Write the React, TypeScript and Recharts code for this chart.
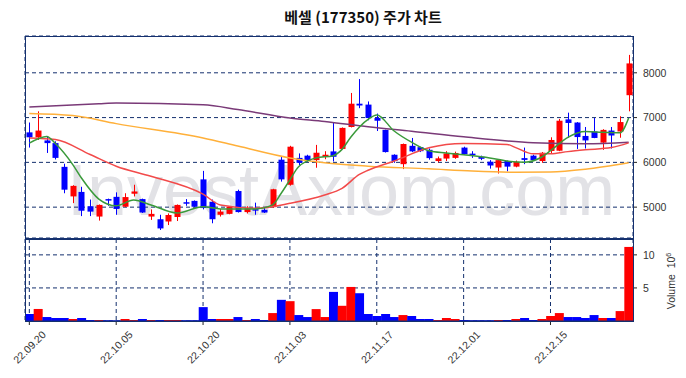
import { ComposedChart, BarChart, Bar, Line, XAxis, YAxis, CartesianGrid, Cell } from 'recharts';

// trading days shown on the chart
const dates = [
  '22.09.20', '22.09.21', '22.09.22', '22.09.23', '22.09.26', '22.09.27', '22.09.28', '22.09.29', '22.09.30',
  '22.10.04', '22.10.05', '22.10.06', '22.10.07', '22.10.11', '22.10.12', '22.10.13', '22.10.14',
  '22.10.17', '22.10.18', '22.10.19', '22.10.20', '22.10.21', '22.10.24', '22.10.25', '22.10.26',
  '22.10.27', '22.10.28', '22.10.31', '22.11.01', '22.11.02', '22.11.03', '22.11.04', '22.11.07',
  '22.11.08', '22.11.09', '22.11.10', '22.11.11', '22.11.14', '22.11.15', '22.11.16', '22.11.17',
  '22.11.18', '22.11.21', '22.11.22', '22.11.23', '22.11.24', '22.11.25', '22.11.28', '22.11.29',
  '22.11.30', '22.12.01', '22.12.02', '22.12.05', '22.12.06', '22.12.07', '22.12.08', '22.12.09',
  '22.12.12', '22.12.13', '22.12.14', '22.12.15', '22.12.16', '22.12.19', '22.12.20', '22.12.21',
  '22.12.22', '22.12.23', '22.12.26', '22.12.27', '22.12.28',
];

const opens = [
  6670, 6560, 6490, 6430, 5900, 5240, 5340, 5020, 4790, 5180,
  5230, 5010, 5300, 5180, 4790, 4730, 4680, 4780, 5110, 5140,
  5620, 5120, 4830, 4850, 5360, 4890, 4955, 4940, 5000, 6060,
  5500, 6100, 6150, 6050, 6120, 6245, 6300, 6790, 7310, 7290,
  6990, 6725, 6170, 5960, 6370, 6340, 6280, 6030, 6085, 6100,
  6330, 6195, 6125, 6015, 5885, 6030, 5905, 6095, 6150, 6030,
  6255, 6260, 6960, 6890, 6590, 6690, 6440, 6710, 6690, 7500,
];
const highs = [
  6890, 7140, 6580, 6470, 5970, 5490, 5455, 5170, 5060, 5190,
  5330, 5310, 5500, 5190, 4950, 4830, 4860, 5060, 5180, 5150,
  5810, 5170, 4960, 5020, 5390, 5020, 5100, 4980, 5410, 6140,
  6370, 6200, 6170, 6390, 6250, 6880, 6780, 7550, 7860, 7360,
  7090, 6730, 6180, 6420, 6545, 6350, 6310, 6130, 6250, 6240,
  6350, 6250, 6150, 6050, 6060, 6040, 6040, 6330, 6170, 6230,
  6560, 6970, 7110, 6900, 6790, 6990, 6740, 6790, 7030, 8400,
];
const lows = [
  6330, 6500, 6210, 6065, 5310, 5090, 4800, 4800, 4700, 5030,
  4830, 5000, 5240, 4870, 4715, 4490, 4600, 4690, 5030, 5000,
  4950, 4640, 4790, 4840, 4880, 4860, 4830, 4870, 4990, 5570,
  5480, 5940, 6010, 5880, 6070, 6020, 6290, 6780, 7210, 6940,
  6700, 6220, 5990, 5850, 6230, 6230, 6060, 6000, 6030, 6080,
  6170, 6100, 6050, 5860, 5750, 5800, 5890, 5960, 6040, 5990,
  6190, 6250, 6550, 6300, 6310, 6540, 6280, 6310, 6550, 7140,
];
const closes = [
  6560, 6710, 6430, 6100, 5390, 5475, 4920, 4900, 5050, 5150,
  4960, 5225, 5350, 4880, 4850, 4525, 4825, 5050, 5095, 5010,
  4980, 4730, 4900, 5010, 4890, 4975, 4925, 4880, 5400, 5620,
  6350, 5990, 6030, 6215, 6170, 6125, 6770, 7310, 7270, 6990,
  6930, 6230, 6030, 6410, 6245, 6250, 6095, 6090, 6200, 6210,
  6180, 6160, 6080, 5930, 6050, 5905, 6010, 6055, 6050, 6215,
  6500, 6930, 6880, 6565, 6490, 6545, 6725, 6600, 6900, 8210,
];
// volume in millions of shares
const volumes = [
  1.06, 1.82, 0.6, 0.45, 0.45, 0.3, 0.45, 0.15, 0.15, 0.12,
  0.1, 0.3, 0.15, 0.3, 0.15, 0.15, 0.15, 0.15, 0.12, 0.12,
  2.1, 0.3, 0.3, 0.3, 0.6, 0.15, 0.3, 0.15, 1.2, 3.2,
  3.0, 0.9, 0.6, 1.8, 0.6, 4.4, 2.3, 5.15, 4.2, 1.06,
  0.76, 1.06, 0.6, 0.9, 0.76, 0.3, 0.3, 0.15, 0.45, 0.3,
  0.15, 0.12, 0.12, 0.12, 0.15, 0.15, 0.3, 0.45, 0.15, 0.3,
  0.76, 1.2, 0.6, 0.6, 0.45, 0.9, 0.45, 0.45, 1.5, 11.2,
];

// moving averages: [day index, price]
const ma5Pts: [number, number][] = [
  [0, 6430], [2, 6580], [3, 6420], [5, 5950], [6, 5650], [8, 5180], [10, 5030], [12, 5160],
  [14, 5050], [17, 4870], [20, 5010], [22, 4960], [26, 4960], [28, 5050], [29, 5310], [30, 5610],
  [31, 5900], [33, 6100], [35, 6150], [36, 6290], [37, 6560], [39, 6960], [40, 7060], [42, 6700],
  [44, 6450], [46, 6260], [48, 6210], [50, 6170], [53, 6100], [55, 6030], [57, 6005], [59, 6120],
  [60, 6260], [62, 6560], [64, 6690], [66, 6670], [68, 6660], [69, 6990],
];
const ma20Pts: [number, number][] = [
  [0, 6545], [3, 6510], [7, 6175], [10, 5915], [14, 5690], [20, 5290], [22, 5050], [26, 4975],
  [30, 5085], [34, 5270], [36, 5420], [38, 5730], [39, 5825], [42, 6030], [46, 6325], [50, 6420],
  [55, 6400], [56, 6330], [58, 6190], [60, 6190], [62, 6240], [64, 6280], [67, 6330], [69, 6435],
];
const ma60Pts: [number, number][] = [
  [0, 7090], [5, 7045], [10, 6865], [20, 6545], [24, 6365], [30, 6100], [34, 5990], [39, 5915],
  [46, 5855], [51, 5805], [56, 5780], [60, 5785], [64, 5845], [69, 5990],
];
const ma120Pts: [number, number][] = [
  [0, 7235], [8, 7310], [10, 7325], [20, 7285], [24, 7180], [30, 6990], [34, 6915], [39, 6795],
  [44, 6695], [50, 6570], [58, 6440], [64, 6415], [69, 6450],
];

const tickDates = ['22.09.20', '22.10.05', '22.10.20', '22.11.03', '22.11.17', '22.12.01', '22.12.15'];
const priceTicks = [5000, 6000, 7000, 8000];
const volumeTicks = [5, 10];

const UP = '#ff0000';
const DOWN = '#0000ff';
const NAVY = '#14306e';
const FONT = '"Liberation Sans", Arial, sans-serif';

const rows: any[] = dates.map((date, i) => ({
  date,
  open: opens[i],
  high: highs[i],
  low: lows[i],
  close: closes[i],
  range: [lows[i], highs[i]],
  vol: volumes[i],
  ma5: null,
  ma20: null,
  ma60: null,
  ma120: null,
}));
ma5Pts.forEach(([i, v]) => (rows[i].ma5 = v));
ma20Pts.forEach(([i, v]) => (rows[i].ma20 = v));
ma60Pts.forEach(([i, v]) => (rows[i].ma60 = v));
ma120Pts.forEach(([i, v]) => (rows[i].ma120 = v));

const Candle = (props: any) => {
  const { x, y, width, height, payload } = props;
  if (!payload) return null;
  const { open, close, high, low } = payload;
  const top = Math.min(y, y + height);
  const h = Math.abs(height);
  const span = high - low || 1;
  const py = (v: number) => top + ((high - v) / span) * h;
  const cx = Math.round(x + width / 2) + 0.5;
  const color = close >= open ? UP : DOWN;
  const bTop = py(Math.max(open, close));
  const bBot = py(Math.min(open, close));
  const bw = 6;
  return (
    <g>
      <line x1={cx} x2={cx} y1={top} y2={top + h} stroke={color} strokeWidth={1} />
      <rect x={cx - bw / 2} y={bTop} width={bw} height={Math.max(1.5, bBot - bTop)} fill={color} />
    </g>
  );
};

const DateTick = (props: any) => {
  const { x, y, payload } = props;
  const cy = y + 20;
  return (
    <text
      x={x}
      y={cy}
      textAnchor="middle"
      dominantBaseline="central"
      transform={`rotate(-45 ${x} ${cy})`}
      fontSize={10.5}
      fontFamily={FONT}
      fill="#333"
    >
      {payload.value}
    </text>
  );
};

const axisTick = { fontSize: 10.5, fill: '#333', fontFamily: FONT };

export default function App() {
  return (
    <div style={{ position: 'absolute', left: 0, top: 0, width: 686, height: 378, background: '#fff', overflow: 'hidden' }}>
      {/* watermark sits behind the charts */}
      <div
        style={{
          position: 'absolute',
          left: 67,
          top: 154,
          fontSize: 72,
          lineHeight: '72px',
          fontFamily: FONT,
          color: '#e2e2e6',
          whiteSpace: 'nowrap',
        }}
      >
        InvestAxiom.com
      </div>

      <div
        style={{
          position: 'absolute',
          left: 213,
          top: 6,
          width: 300,
          textAlign: 'center',
          fontSize: 15,
          lineHeight: '22px',
          fontWeight: 'bold',
          fontFamily: '"Noto Sans CJK KR", sans-serif',
          color: '#111',
        }}
      >
        베셀 (177350) 주가 차트
      </div>

      {/* price panel */}
      <div style={{ position: 'absolute', left: 0, top: 0 }}>
        <ComposedChart width={686} height={239} data={rows} margin={{ top: 36, right: 0, left: 25, bottom: 1 }}>
          <CartesianGrid stroke={NAVY} strokeDasharray="4 3" strokeWidth={1} />
          <XAxis dataKey="date" ticks={tickDates} interval={0} height={0} tick={false} tickLine={false} axisLine={false} />
          <YAxis
            orientation="right"
            width={53}
            domain={[4311, 8822]}
            ticks={priceTicks}
            allowDataOverflow
            axisLine={false}
            tickLine={{ stroke: '#222' }}
            tickSize={4}
            tickMargin={6}
            tick={axisTick}
          />
          <Bar dataKey="range" shape={<Candle />} isAnimationActive={false} />
          <Line dataKey="ma120" type="monotone" stroke="#7a3a78" strokeWidth={1.5} dot={false} connectNulls isAnimationActive={false} />
          <Line dataKey="ma60" type="monotone" stroke="#ffb03a" strokeWidth={1.5} dot={false} connectNulls isAnimationActive={false} />
          <Line dataKey="ma20" type="monotone" stroke="#f24a4a" strokeWidth={1.5} dot={false} connectNulls isAnimationActive={false} />
          <Line dataKey="ma5" type="monotone" stroke="#3a9a3a" strokeWidth={1.5} dot={false} connectNulls isAnimationActive={false} />
        </ComposedChart>
      </div>

      {/* volume panel */}
      <div style={{ position: 'absolute', left: 0, top: 239 }}>
        <BarChart width={686} height={139} data={rows} margin={{ top: 0, right: 0, left: 25, bottom: 0 }} barCategoryGap={0}>
          <CartesianGrid stroke={NAVY} strokeDasharray="4 3" strokeWidth={1} />
          <XAxis
            dataKey="date"
            ticks={tickDates}
            interval={0}
            height={57}
            axisLine={{ stroke: NAVY }}
            tickLine={{ stroke: '#222' }}
            tickSize={4}
            tickMargin={2}
            tick={<DateTick />}
          />
          <YAxis
            orientation="right"
            width={53}
            domain={[0, 12.4]}
            ticks={volumeTicks}
            allowDataOverflow
            axisLine={false}
            tickLine={{ stroke: '#222' }}
            tickSize={4}
            tickMargin={6}
            tick={axisTick}
          />
          <Bar dataKey="vol" isAnimationActive={false}>
            {rows.map((r, i) => (
              <Cell key={`v-${i}`} fill={r.close >= r.open ? UP : DOWN} />
            ))}
          </Bar>
        </BarChart>
      </div>

      {/* panel frames */}
      <div style={{ position: 'absolute', left: 25, top: 36, width: 609, height: 203, boxSizing: 'border-box', border: `1px solid ${NAVY}` }} />
      <div style={{ position: 'absolute', left: 25, top: 239, width: 609, height: 83, boxSizing: 'border-box', border: `1px solid ${NAVY}` }} />

      <div
        style={{
          position: 'absolute',
          left: 635,
          top: 274,
          width: 72,
          height: 14,
          lineHeight: '14px',
          textAlign: 'center',
          fontSize: 10.5,
          fontFamily: FONT,
          color: '#333',
          transform: 'rotate(-90deg)',
          transformOrigin: 'center',
          whiteSpace: 'nowrap',
        }}
      >
        Volume{'\u00a0\u00a0'}10<sup style={{ fontSize: 7, lineHeight: 0 }}>6</sup>
      </div>
    </div>
  );
}
